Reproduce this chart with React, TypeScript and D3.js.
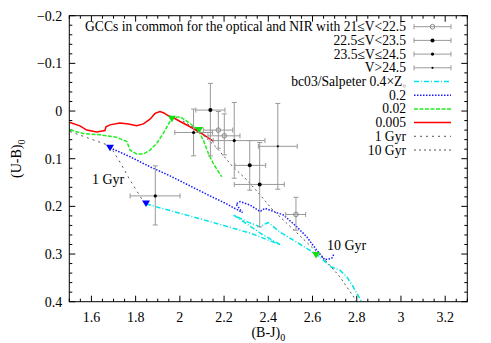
import React from 'react';
import * as d3 from 'd3';

// colour–colour tracks as [B-J, U-B]
const model04 = [
  [1.847, 0.195], [2.091, 0.226], [2.317, 0.256], [2.453, 0.280], [2.370, 0.258],
  [2.242, 0.218], [2.308, 0.233], [2.363, 0.243], [2.385, 0.237], [2.400, 0.234],
  [2.453, 0.254], [2.513, 0.271], [2.574, 0.288], [2.634, 0.306], [2.679, 0.326],
  [2.724, 0.334], [2.755, 0.348], [2.779, 0.365], [2.822, 0.400],
];
const model02 = [
  [1.684, 0.077], [1.775, 0.096], [1.865, 0.117], [1.955, 0.136], [2.046, 0.157],
  [2.136, 0.178], [2.204, 0.193], [2.283, 0.213], [2.254, 0.195], [2.272, 0.190],
  [2.317, 0.197], [2.363, 0.211], [2.385, 0.204], [2.408, 0.208], [2.468, 0.218],
  [2.529, 0.243], [2.574, 0.264], [2.619, 0.292], [2.656, 0.312], [2.687, 0.309],
  [2.699, 0.298],
];
const model002 = [
  [1.503, 0.040], [1.563, 0.047], [1.639, 0.050], [1.714, 0.055], [1.760, 0.064],
  [1.775, 0.082], [1.805, 0.090], [1.835, 0.090], [1.865, 0.082], [1.895, 0.068],
  [1.925, 0.047], [1.955, 0.022], [1.967, 0.015], [2.001, 0.012], [2.046, 0.026],
  [2.083, 0.040], [2.106, 0.061], [2.129, 0.089], [2.151, 0.110], [2.189, 0.138],
];
const model0005 = [
  [1.503, 0.024], [1.548, 0.031], [1.579, 0.040], [1.624, 0.044], [1.661, 0.041],
  [1.666, 0.033], [1.684, 0.029], [1.729, 0.025], [1.767, 0.027], [1.805, 0.031],
  [1.835, 0.027], [1.865, 0.017], [1.888, 0.005], [1.910, 0.001], [1.928, 0.004],
  [1.948, 0.010], [1.968, 0.013], [2.001, 0.022], [2.046, 0.033], [2.091, 0.045],
  [2.151, 0.063],
];
const iso1 = [[1.503, 0.043], [1.684, 0.073], [1.729, 0.107], [1.775, 0.145], [1.835, 0.190]];
const iso10 = [
  [2.014, 0.021], [2.087, 0.042], [2.168, 0.078], [2.236, 0.115], [2.304, 0.145],
  [2.363, 0.176], [2.421, 0.208], [2.530, 0.256], [2.620, 0.296], [2.666, 0.317],
  [2.724, 0.348], [2.801, 0.400],
];
const blueMarks = [[1.684, 0.077], [1.847, 0.194]];
const greenMarks = [[1.964, 0.016], [2.087, 0.040], [2.616, 0.302]];

// GCCs: x, y, x-range, y-range, magnitude bin (0: 21-22.5 ... 3: >24.5)
const gcX = [1.889, 2.138, 2.062, 2.174, 2.201, 2.246, 2.443, 2.316, 2.361, 2.525];
const gcY = [0.178, -0.002, 0.045, 0.040, 0.052, 0.062, 0.074, 0.114, 0.154, 0.217];
const gcXlo = [1.775, 2.072, 1.977, 2.106, 2.127, 2.151, 2.355, 2.249, 2.246, 2.479];
const gcXhi = [2.001, 2.204, 2.148, 2.239, 2.272, 2.385, 2.531, 2.388, 2.472, 2.569];
const gcYlo = [0.115, -0.058, -0.004, 0.001, 0.006, -0.018, -0.016, 0.062, 0.066, 0.181];
const gcYhi = [0.239, 0.094, 0.094, 0.078, 0.092, 0.141, 0.164, 0.166, 0.243, 0.250];
const gcBin = [2, 1, 2, 0, 0, 2, 3, 1, 1, 0];

const xTicks = [1.6, 1.8, 2, 2.2, 2.4, 2.6, 2.8, 3, 3.2];
const yTicks = [-0.2, -0.1, 0, 0.1, 0.2, 0.3, 0.4];
const binLabels = ['GCCs in common for the optical and NIR with 21≤V<22.5', '22.5≤V<23.5', '23.5≤V≤24.5', 'V>24.5'];

const W = 491, H = 343;
const L = 69.3, R = 467.3, T = 15.7, B = 301.7;
const FONT = "'Liberation Serif', 'Times New Roman', serif";

const marker = (bin: number, cx: number, cy: number, key: string) => {
  if (bin === 0) return <circle key={key} cx={cx} cy={cy} r={2.3} fill="none" stroke="#888" strokeWidth={1} />;
  const r = bin === 1 ? 2 : bin === 2 ? 1.6 : 1.1;
  return <circle key={key} cx={cx} cy={cy} r={r} fill="#000" />;
};

export default function App() {
  const x = d3.scaleLinear().domain([1.5, 3.3]).range([L, R]);
  const y = d3.scaleLinear().domain([-0.2, 0.4]).range([T, B]);
  const line = d3.line<number[]>().x(d => x(d[0])).y(d => y(d[1]));

  const xMinor = d3.range(1.5, 3.3001, 0.05);
  const yMinor = d3.range(-0.2, 0.4001, 0.02);

  const tri = (d: number[], fill: string, i: number) => {
    const cx = x(d[0]), cy = y(d[1]);
    return <path key={fill + i} d={`M${cx - 4},${cy - 3}L${cx + 4},${cy - 3}L${cx},${cy + 3.5}Z`} fill={fill} />;
  };

  const legX0 = 414, legX1 = 451, legTx = 406;
  const rowY = (i: number) => 26.7 + i * 13.7;
  const models = [
    { label: 'bc03/Salpeter 0.4×Z', color: '#00e5e5', dash: '5,2,1,2', w: 1.5 },
    { label: '0.2', color: '#1a1aff', dash: '1.5,1.5', w: 1.5 },
    { label: '0.02', color: '#22ee22', dash: '4,1.5', w: 1.5 },
    { label: '0.005', color: '#ff0000', dash: null, w: 1.5 },
    { label: '1 Gyr', color: '#555', dash: '2,4', w: 1 },
    { label: '10 Gyr', color: '#555', dash: '2,3', w: 1 },
  ];
  const tracks = [model04, model02, model002, model0005, iso1, iso10];

  return (
    <div style={{ position: 'fixed', left: 0, top: 0 }}>
      <svg width={W} height={H} style={{ display: 'block', background: '#fff', fontFamily: FONT }}>
        <defs>
          <clipPath id="plot"><rect x={L} y={T} width={R - L} height={B - T} /></clipPath>
        </defs>

        {/* ticks, inward, mirrored */}
        <g stroke="#000" strokeWidth={1}>
          {xMinor.map((v, i) => {
            const major = xTicks.some(t => Math.abs(t - v) < 1e-6);
            const len = major ? 6 : 3;
            return (
              <g key={'xm' + i}>
                <line x1={x(v)} x2={x(v)} y1={B} y2={B - len} />
                <line x1={x(v)} x2={x(v)} y1={T} y2={T + len} />
              </g>
            );
          })}
          {yMinor.map((v, i) => {
            const major = yTicks.some(t => Math.abs(t - v) < 1e-6);
            const len = major ? 6 : 3;
            return (
              <g key={'ym' + i}>
                <line x1={L} x2={L + len} y1={y(v)} y2={y(v)} />
                <line x1={R} x2={R - len} y1={y(v)} y2={y(v)} />
              </g>
            );
          })}
        </g>

        <g fontSize={14} fill="#000">
          {xTicks.map(t => (
            <text key={'xt' + t} x={x(t)} y={B + 20} textAnchor="middle">{d3.format('~g')(t)}</text>
          ))}
          {yTicks.map(t => (
            <text key={'yt' + t} x={L - 7} y={y(t) + 5} textAnchor="end">{t === 0 ? '0' : d3.format('.1f')(t)}</text>
          ))}
          <text x={(L + R) / 2} y={337} textAnchor="middle">(B-J)<tspan fontSize={10} dy={4}>0</tspan></text>
          <text transform={`translate(21,${(T + B) / 2}) rotate(-90)`} textAnchor="middle">(U-B)<tspan fontSize={10} dy={4}>0</tspan></text>
        </g>

        {/* model tracks */}
        <g clipPath="url(#plot)" fill="none">
          {tracks.map((tr, i) => (
            <path key={'tr' + i} d={line(tr) || ''} stroke={models[i].color} strokeWidth={models[i].w}
              strokeDasharray={models[i].dash || undefined} />
          ))}
          {blueMarks.map((d, i) => tri(d, '#0000ff', i))}
          {greenMarks.map((d, i) => tri(d, '#11dd11', i))}
        </g>

        {/* GCC error bars */}
        <g stroke="#999" strokeWidth={1}>
          {gcX.map((v, i) => (
            <g key={'eb' + i}>
              <line x1={x(gcXlo[i])} x2={x(gcXhi[i])} y1={y(gcY[i])} y2={y(gcY[i])} />
              <line x1={x(gcXlo[i])} x2={x(gcXlo[i])} y1={y(gcY[i]) - 2.5} y2={y(gcY[i]) + 2.5} />
              <line x1={x(gcXhi[i])} x2={x(gcXhi[i])} y1={y(gcY[i]) - 2.5} y2={y(gcY[i]) + 2.5} />
              <line x1={x(v)} x2={x(v)} y1={y(gcYlo[i])} y2={y(gcYhi[i])} />
              <line x1={x(v) - 2.5} x2={x(v) + 2.5} y1={y(gcYlo[i])} y2={y(gcYlo[i])} />
              <line x1={x(v) - 2.5} x2={x(v) + 2.5} y1={y(gcYhi[i])} y2={y(gcYhi[i])} />
            </g>
          ))}
        </g>
        <g>{gcX.map((v, i) => marker(gcBin[i], x(v), y(gcY[i]), 'pt' + i))}</g>

        <text x={92} y={184} fontSize={14}>1 Gyr</text>
        <text x={327} y={250} fontSize={14}>10 Gyr</text>

        {/* legend */}
        <g fontSize={13.6}>
          {binLabels.map((lab, i) => (
            <g key={'lb' + i}>
              <text x={legTx} y={rowY(i) + 4.5} textAnchor="end">{lab}</text>
              <g stroke="#999">
                <line x1={legX0} x2={legX1} y1={rowY(i)} y2={rowY(i)} />
                <line x1={legX0} x2={legX0} y1={rowY(i) - 2.5} y2={rowY(i) + 2.5} />
                <line x1={legX1} x2={legX1} y1={rowY(i) - 2.5} y2={rowY(i) + 2.5} />
              </g>
              {marker(i, (legX0 + legX1) / 2, rowY(i), 'lm' + i)}
            </g>
          ))}
          {models.map((m, i) => (
            <g key={'lm' + i}>
              <text x={legTx} y={rowY(i + 4) + 4.5} textAnchor="end">
                {m.label}
                {i === 0 && <tspan fontSize={6} dy={2}>○</tspan>}
              </text>
              <line x1={legX0} x2={legX1} y1={rowY(i + 4)} y2={rowY(i + 4)} stroke={m.color}
                strokeWidth={m.w} strokeDasharray={m.dash || undefined} />
            </g>
          ))}
        </g>

        <rect x={L} y={T} width={R - L} height={B - T} fill="none" stroke="#000" strokeWidth={1} />
      </svg>
    </div>
  );
}
